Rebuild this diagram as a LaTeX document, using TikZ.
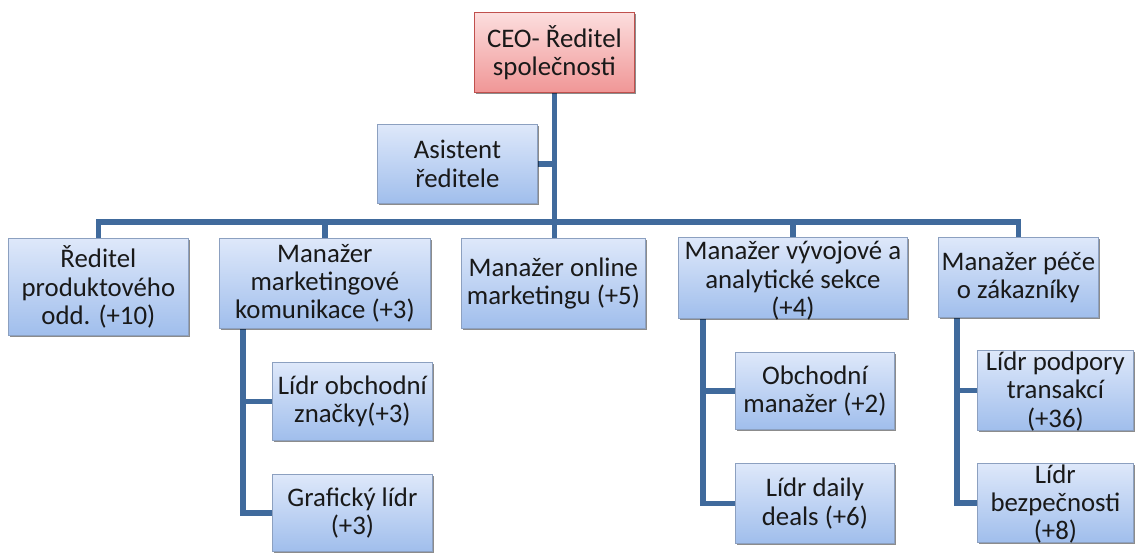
\documentclass[tikz,border=0pt]{standalone}
\usepackage{fontspec}
\setmainfont{Carlito}
\usetikzlibrary{calc,shadows,backgrounds}
\definecolor{linec}{RGB}{64,106,156}
\definecolor{bborder}{RGB}{140,160,192}
\definecolor{btop}{RGB}{222,232,250}
\definecolor{bbot}{RGB}{160,190,236}
\definecolor{ptop}{RGB}{252,222,222}
\definecolor{pbot}{RGB}{240,150,150}
\definecolor{pborder}{RGB}{192,80,77}
\definecolor{textc}{RGB}{25,25,25}
\begin{document}
\begin{tikzpicture}[x=1pt,y=-1pt,
  conn/.style={draw=linec,line width=5.5pt},
  bbox/.style={anchor=north west, rectangle, draw=bborder, line width=0.8pt,
    top color=btop, bottom color=bbot, inner sep=0pt,
    drop shadow={shadow xshift=1.2pt, shadow yshift=-1.5pt, fill=black, opacity=0.45}},
  pbox/.style={bbox, draw=pborder, top color=ptop, bottom color=pbot},
  txt/.style={align=center, font=\fontsize{26.8}{28.3}\selectfont, text=textc, inner sep=0pt}]
\useasboundingbox (0,0) rectangle (1135,552);

% boxes
\node[pbox, minimum width=160pt, minimum height=80pt] (ceo) at (474,12) {};
\node[bbox, minimum width=160pt, minimum height=79pt] (asst) at (377,124) {};
\node[bbox, minimum width=180pt, minimum height=97pt] (b1) at (8,238) {};
\node[bbox, minimum width=211pt, minimum height=90pt] (b2) at (219,238) {};
\node[bbox, minimum width=184pt, minimum height=90pt] (b3) at (461,238) {};
\node[bbox, minimum width=229pt, minimum height=81pt] (b4) at (678,237) {};
\node[bbox, minimum width=160pt, minimum height=80pt] (b5) at (938,237) {};
\node[bbox, minimum width=160pt, minimum height=78pt] (c21) at (272,362) {};
\node[bbox, minimum width=160pt, minimum height=77pt] (c22) at (272,474) {};
\node[bbox, minimum width=159pt, minimum height=77pt] (c41) at (735,352) {};
\node[bbox, minimum width=159pt, minimum height=80pt] (c42) at (735,463) {};
\node[bbox, minimum width=156pt, minimum height=80pt] (c51) at (977,350) {};
\node[bbox, minimum width=156pt, minimum height=79pt] (c52) at (977,463) {};

% texts
\node[txt] at (ceo.center) {CEO- Ředitel\\společnosti};
\node[txt] at (asst.center) {Asistent\\ředitele};
\node[txt] at (b1.center) {Ředitel\\produktového\\odd. (+10)};
\node[txt] at (b2.center) {Manažer\\marketingové\\komunikace (+3)};
\node[txt] at (b3.center) {Manažer online\\marketingu (+5)};
\node[txt] at ($(b4.center)+(0,3)$) {Manažer vývojové a\\analytické sekce\\(+4)};
\node[txt] at (b5.center) {Manažer péče\\o zákazníky};
\node[txt] at (c21.center) {Lídr obchodní\\značky(+3)};
\node[txt] at (c22.center) {Grafický lídr\\(+3)};
\node[txt] at (c41.center) {Obchodní\\manažer (+2)};
\node[txt] at (c42.center) {Lídr daily\\deals (+6)};
\node[txt] at ($(c51.center)+(0,1)$) {Lídr podpory\\transakcí\\(+36)};
\node[txt] at ($(c52.center)+(0,1)$) {Lídr\\bezpečnosti\\(+8)};

\coordinate (bar) at (97,222);

\begin{scope}[on background layer]
\draw[conn] (ceo.south) -- (ceo.south |- b3.north);
\draw[conn] (asst.east) -- (asst.east -| ceo.south);
\draw[conn] (b1.north) -- (b1.north |- bar) -- (b5.north |- bar) -- (b5.north);
\draw[conn] (b2.north) -- (b2.north |- bar);
\draw[conn] (b4.north) -- (b4.north |- bar);
\draw[conn] ($(b2.south west)+(24,0)$) |- (c21.west);
\draw[conn] ($(b2.south west)+(24,0)$) |- (c22.west);
\draw[conn] ($(b4.south west)+(25,0)$) |- (c41.west);
\draw[conn] ($(b4.south west)+(25,0)$) |- (c42.west);
\draw[conn] ($(b5.south west)+(19,0)$) |- (c51.west);
\draw[conn] ($(b5.south west)+(19,0)$) |- (c52.west);
\end{scope}
\end{tikzpicture}
\end{document}
